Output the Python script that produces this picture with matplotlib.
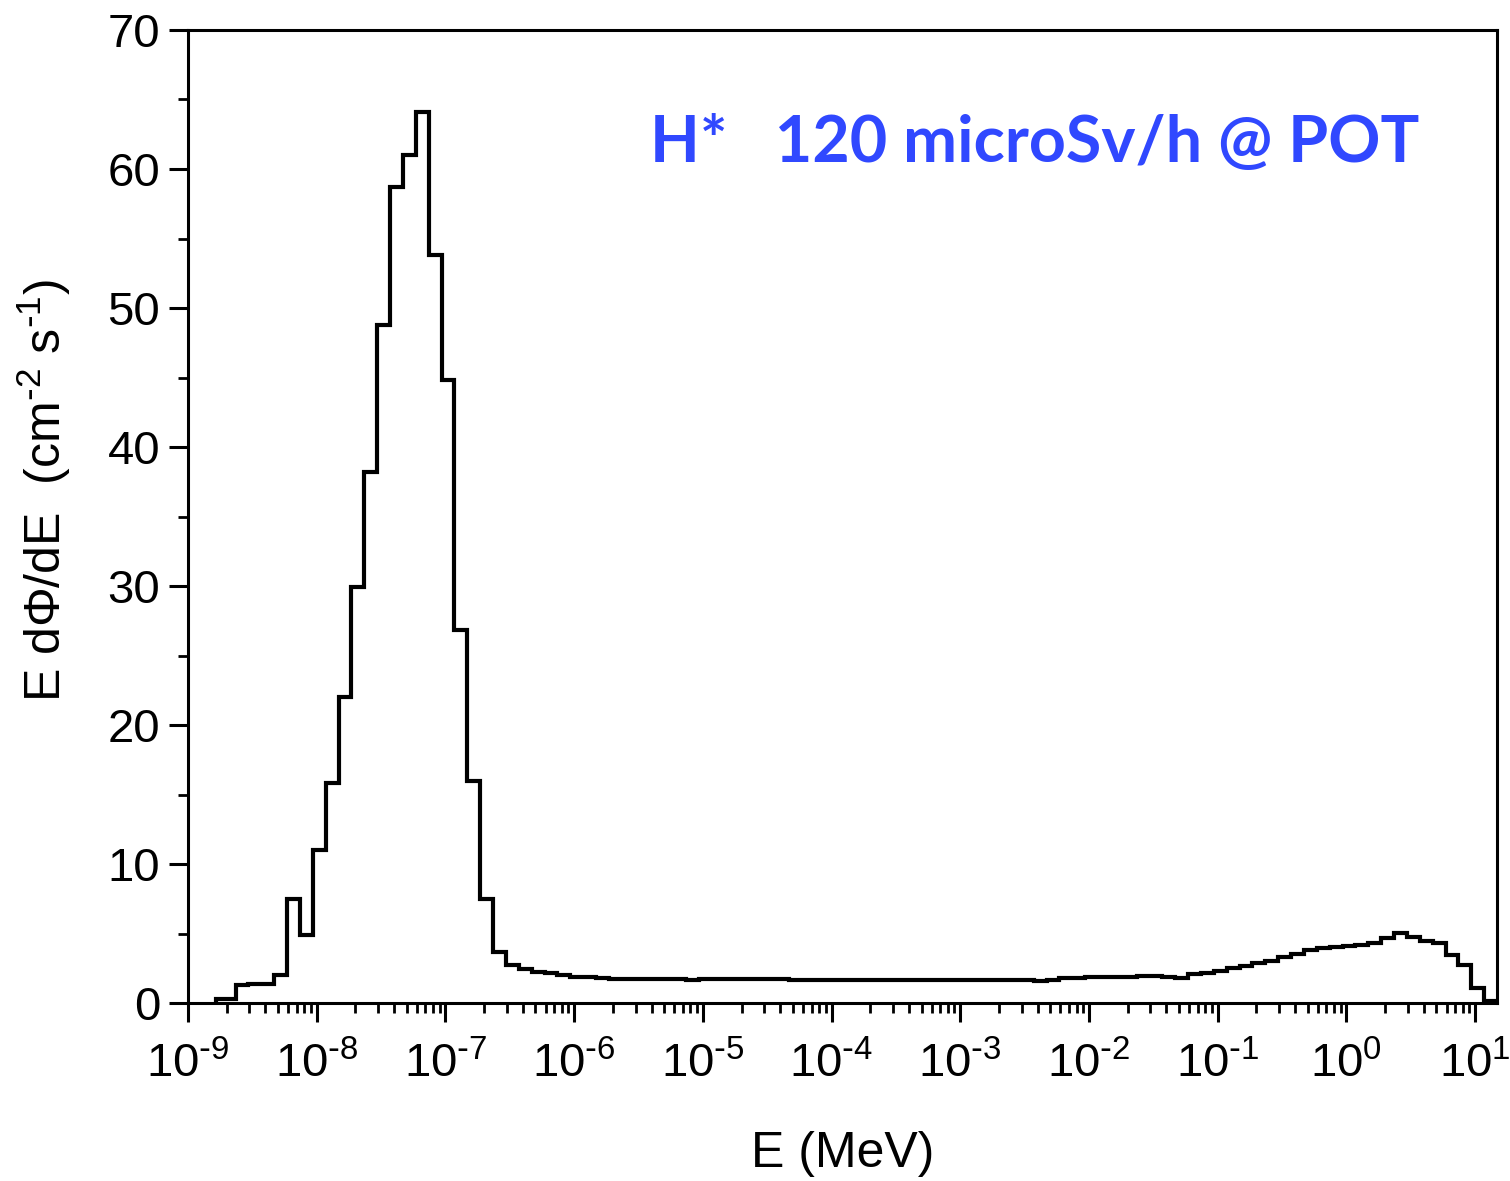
import numpy as np
import matplotlib
matplotlib.use("Agg")
import matplotlib.pyplot as plt
import matplotlib.ticker as ticker

plt.rcParams['font.family'] = ['Liberation Sans', 'DejaVu Sans']
plt.rcParams['mathtext.default'] = 'regular'
plt.rcParams['axes.unicode_minus'] = False

# bin edges in log10(E/MeV): first bin is a bit narrower, then 0.1 decade bins
log_edges = np.concatenate([[-8.78], np.round(np.arange(-8.73, 1.171, 0.1), 2)])
edges = 10.0 ** log_edges

# E dPhi/dE per bin (cm-2 s-1)
flux = [0.3, 0.3, 1.3, 1.35, 1.4, 2.0, 7.5, 4.9,
        11.0, 15.8, 22.0, 29.9, 38.2, 48.8, 58.7, 61.0, 64.1, 53.8,
        44.8, 26.8, 16.0, 7.5, 3.7, 2.73, 2.42, 2.25, 2.13, 2.0,
        1.9, 1.84, 1.82, 1.76, 1.75, 1.75, 1.75, 1.75, 1.75, 1.66,
        1.75, 1.76, 1.76, 1.76, 1.76, 1.76, 1.76,
        1.67, 1.67, 1.67, 1.67, 1.67, 1.67, 1.67, 1.67, 1.67, 1.67,
        1.67, 1.67, 1.67, 1.67, 1.67, 1.67, 1.67, 1.67, 1.67,
        1.6, 1.65, 1.78, 1.8, 1.85, 1.85, 1.88, 1.9, 1.95, 1.92,
        1.9, 1.78, 2.1, 2.15, 2.33, 2.5, 2.66, 2.85, 3.04, 3.29,
        3.5, 3.8, 3.99, 4.0, 4.1, 4.17, 4.34, 4.65, 5.06, 4.73,
        4.48, 4.3, 3.45, 2.73, 1.06, 0.15]


def log_label(x, pos):
    p = int(round(np.log10(x)))
    if p < 0:
        return r'$10^{\text{-}%d}$' % (-p)
    return r'$10^{%d}$' % p


fig = plt.figure(figsize=(15.1, 11.81), dpi=100)
ax = fig.add_axes([0.1245, 0.1507, 0.8669, 0.8239])

ax.stairs(flux, edges, baseline=0, color='black', linewidth=3.0)

ax.set_xscale('log')
ax.set_xlim(1e-9, 10 ** 1.17)
ax.set_ylim(0, 70)

ax.xaxis.set_major_locator(ticker.LogLocator(base=10, numticks=20))
ax.xaxis.set_major_formatter(ticker.FuncFormatter(log_label))
ax.xaxis.set_minor_locator(ticker.LogLocator(base=10, subs=np.arange(2, 10), numticks=20))
ax.xaxis.set_minor_formatter(ticker.NullFormatter())
ax.yaxis.set_major_locator(ticker.MultipleLocator(10))
ax.yaxis.set_minor_locator(ticker.MultipleLocator(5))

for s in ax.spines.values():
    s.set_linewidth(2.2)
ax.tick_params(which='major', direction='out', length=14, width=2.2, labelsize=34)
ax.tick_params(axis='x', which='major', pad=14)
ax.tick_params(axis='y', which='major', pad=6)
ax.tick_params(which='minor', direction='out', length=7, width=2.0)
ax.tick_params(top=False, right=False)

ax.set_xlabel('E (MeV)', fontsize=36, labelpad=32)
ax.set_ylabel('E d\u03a6/dE  (cm$^{\\text{-}2}$ s$^{\\text{-}1}$)', fontsize=36)
ax.yaxis.set_label_coords(-0.088, 0.527)

ax.text(0.353, 0.864, 'H*   120 microSv/h @ POT', transform=ax.transAxes,
        color='#3048FF', fontsize=46.5, fontweight='bold', family=['Lato', 'DejaVu Sans'],
        ha='left', va='baseline')

fig.savefig('out.png', dpi=100)
